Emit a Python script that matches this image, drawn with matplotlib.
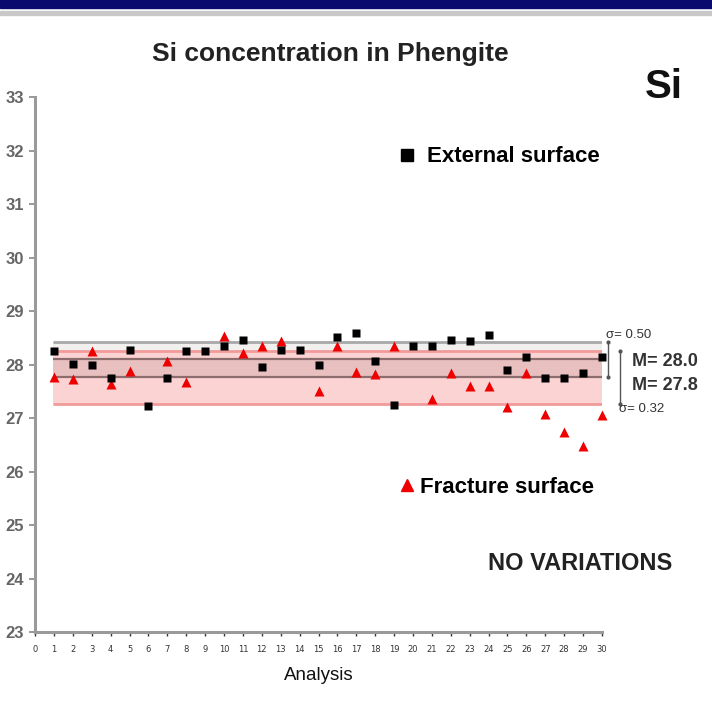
import matplotlib
matplotlib.use("Agg")
import matplotlib.pyplot as plt
import numpy as np
from matplotlib.lines import Line2D
from matplotlib.patches import Rectangle

plt.rcParams["font.family"] = ["Liberation Sans", "DejaVu Sans"]

# Analysis number and Si content
analysis = np.arange(1, 31)
external = [28.26, 28.01, 28.00, 27.75, 28.27, 27.23, 27.75, 28.26, 28.26, 28.34,
            28.45, 27.95, 28.27, 28.27, 28.00, 28.52, 28.58, 28.07, 27.25, 28.35,
            28.35, 28.45, 28.43, 28.56, 27.90, 28.14, 27.75, 27.74, 27.85, 28.14]
fracture = [27.77, 27.73, 28.25, 27.64, 27.88, np.nan, 28.07, 27.67, np.nan, 28.54,
            28.21, 28.34, 28.44, np.nan, 27.51, 28.34, 27.86, 27.82, 28.34, np.nan,
            27.36, 27.84, 27.59, 27.60, 27.20, 27.85, 27.07, 26.74, 26.48, 27.05]

# band edges (mean +/- sigma areas)
ext_top = 28.42
frac_top = 28.26
mid_top = 28.11
mid_bot = 27.77
frac_bot = 27.26
band_x = (0.95, 30.0)

fig = plt.figure(figsize=(7.12, 7.28), dpi=100)

# header strip of the slide
fig.patches.append(Rectangle((0, 1 - 8 / 728), 1, 8 / 728, transform=fig.transFigure,
                             color="#0a0a6e", zorder=0))
fig.patches.append(Rectangle((0, 1 - 15 / 728), 1, 4 / 728, transform=fig.transFigure,
                             color="#c8c8c8", zorder=0))

ax = fig.add_axes([35 / 712, 96 / 728, 567 / 712, 535 / 728])

# shaded ranges
ax.fill_between(band_x, frac_top, ext_top, color="#f2efef", lw=0, zorder=1)
ax.fill_between(band_x, frac_bot, frac_top, color="#fbd3d3", lw=0, zorder=1)
ax.fill_between(band_x, mid_bot, mid_top, color="#e9c0c0", lw=0, zorder=1)
ax.hlines(ext_top, *band_x, color="#a8a8a8", lw=2, zorder=2)
ax.hlines([frac_top, frac_bot], *band_x, color="#f19a9a", lw=2, zorder=2)
ax.hlines([mid_top, mid_bot], *band_x, color="#8c6c6c", lw=1.6, zorder=2)

ax.plot(analysis, fracture, "^", color="#ee0000", ms=6.5, mec="none", zorder=3,
        clip_on=False)
ax.plot(analysis, external, "s", color="black", ms=6.3, mec="none", zorder=4,
        clip_on=False)

ax.set_xlim(0, 30)
ax.set_ylim(23, 33)
ax.set_xticks(range(0, 31))
ax.set_yticks(range(23, 34))
ax.tick_params(axis="x", labelsize=6, colors="#333333", length=3, width=1, pad=6)
ax.tick_params(axis="y", labelsize=12, labelcolor="#666666", color="#888888",
               length=4, width=1.2, pad=4)
for lab in ax.get_xticklabels():
    lab.set_family(["Liberation Sans Narrow", "DejaVu Sans"])
for lab in ax.get_yticklabels():
    lab.set_fontweight("bold")
for side in ("top", "right"):
    ax.spines[side].set_visible(False)
for side in ("left", "bottom"):
    ax.spines[side].set_color("#9a9a9a")
    ax.spines[side].set_linewidth(2.2)

ax.set_xlabel("Analysis", fontsize=13.5, labelpad=10, color="#111111")

fig.text(330 / 712, 1 - 54 / 728, "Si concentration in Phengite", ha="center",
         va="center", fontsize=19, fontweight="bold", color="#222222")
fig.text(664 / 712, 1 - 87 / 728, "Si", ha="center", va="center", fontsize=29,
         fontweight="bold", color="#111111")

# legends as two separate blocks
leg1 = ax.legend([Line2D([], [], ls="none", marker="s", color="black", ms=8)],
                 ["External surface"], loc="center left",
                 bbox_to_anchor=(0.64, 0.888), frameon=False, handlelength=0.8,
                 handletextpad=0.5, borderpad=0, borderaxespad=0,
                 prop={"size": 16, "weight": "bold"})
ax.add_artist(leg1)
ax.legend([Line2D([], [], ls="none", marker="^", color="#ee0000", ms=8)],
          ["Fracture surface"], loc="center left", bbox_to_anchor=(0.64, 0.271),
          frameon=False, handlelength=0.8, handletextpad=0.2, borderpad=0,
          borderaxespad=0, prop={"size": 16, "weight": "bold"})

fig.text(580 / 712, 1 - 563 / 728, "NO VARIATIONS", ha="center", va="center",
         fontsize=17, fontweight="bold", color="#222222")

# side annotations for mean and sigma
ax.plot([30.3, 30.3], [mid_bot, ext_top], color="#555555", lw=1, marker=".", ms=4,
        clip_on=False)
ax.plot([30.95, 30.95], [frac_bot, frac_top], color="#555555", lw=1, marker=".", ms=4,
        clip_on=False)
ax.text(30.2, ext_top + 0.14, "σ= 0.50", fontsize=9.5, color="#333333", va="center",
        clip_on=False)
ax.text(30.9, frac_bot - 0.1, "σ= 0.32", fontsize=9.5, color="#333333", va="center",
        clip_on=False)
ax.text(31.6, 28.05, "M= 28.0", fontsize=13, fontweight="bold", color="#333333",
        va="center", clip_on=False)
ax.text(31.6, 27.6, "M= 27.8", fontsize=13, fontweight="bold", color="#333333",
        va="center", clip_on=False)

fig.savefig("out.png", dpi=100, facecolor="white")
